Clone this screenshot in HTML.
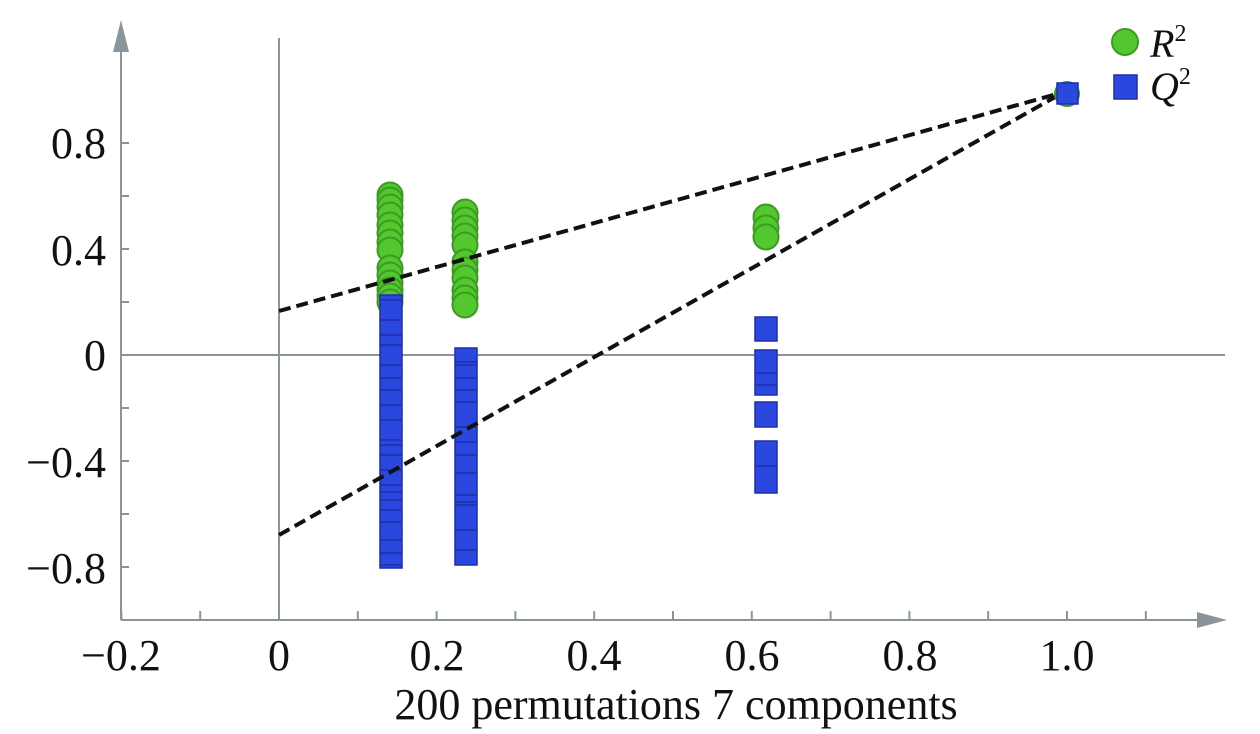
<!DOCTYPE html>
<html><head><meta charset="utf-8"><style>
html,body{margin:0;padding:0;background:#fff;}
svg{display:block;}
text{font-family:"Liberation Serif",serif;fill:#111;}
</style></head><body>
<svg id="s" width="1260" height="734" xmlns="http://www.w3.org/2000/svg">
<g stroke="#8a959b" stroke-width="2" fill="none">
<line x1="121" y1="50" x2="121" y2="620"/>
<line x1="121" y1="620" x2="1205" y2="620"/>
<line x1="279" y1="38" x2="279" y2="620"/>
<line x1="121" y1="355" x2="1225" y2="355"/>
</g>
<polygon points="121,20 113,52 129,52" fill="#8a959b"/>
<polygon points="1227,620 1197,612 1197,628" fill="#8a959b"/>
<g id="ticks" stroke="#8a959b" stroke-width="2"></g>
<g font-size="44">
<text x="106" y="158" text-anchor="end">0.8</text>
<text x="106" y="265" text-anchor="end">0.4</text>
<text x="106" y="370" text-anchor="end">0</text>
<text x="106" y="477" text-anchor="end">−0.4</text>
<text x="106" y="583" text-anchor="end">−0.8</text>
<text x="121" y="670" text-anchor="middle">−0.2</text>
<text x="279" y="670" text-anchor="middle">0</text>
<text x="437" y="670" text-anchor="middle">0.2</text>
<text x="594" y="670" text-anchor="middle">0.4</text>
<text x="752" y="670" text-anchor="middle">0.6</text>
<text x="910" y="670" text-anchor="middle">0.8</text>
<text x="1067" y="670" text-anchor="middle">1.0</text>
<text x="676" y="719" text-anchor="middle">200 permutations 7 components</text>
</g>
<g id="pts"></g>
<g stroke="#111" stroke-width="4" stroke-dasharray="12,6" fill="none">
<line x1="279" y1="311" x2="1064" y2="92"/>
<line x1="279" y1="535" x2="1064" y2="92"/>
</g>
<circle cx="1067" cy="94" r="12" fill="#52c72e" stroke="#3d9a22" stroke-width="2"/>
<rect x="1057" y="83" width="21" height="21" fill="#2a48e0" stroke="#1c2fa8" stroke-width="1.5"/>
<circle cx="1125" cy="42" r="13" fill="#52c72e" stroke="#3d9a22" stroke-width="2"/>
<rect x="1114" y="75" width="23" height="24" fill="#2a48e0" stroke="#1c2fa8" stroke-width="1.5"/>
<text x="1150" y="57" font-size="40" font-style="italic">R<tspan font-size="24" font-style="normal" dy="-16">2</tspan></text>
<text x="1150" y="100" font-size="40" font-style="italic">Q<tspan font-size="24" font-style="normal" dy="-16">2</tspan></text>
</svg>
<script>
var NS="http://www.w3.org/2000/svg";
function el(p,t,a){var e=document.createElementNS(NS,t);for(var k in a)e.setAttribute(k,a[k]);p.appendChild(e);return e;}
var tk=document.getElementById("ticks");
for(var i=-4;i<=4;i++){var y=355-i*53;el(tk,"line",{x1:121,y1:y,x2:129,y2:y});}
for(var j=-2;j<=11;j++){var x=279+j*78.8;el(tk,"line",{x1:x,y1:620,x2:x,y2:611});}
var g=document.getElementById("pts");
function sq(x,y1,y2,lines){el(g,"rect",{x:x,y:y1,width:22,height:y2-y1,fill:"#2a48e0",stroke:"#1c2fa8","stroke-width":1.5});
 lines.forEach(function(l){el(g,"line",{x1:x,x2:x+22,y1:l,y2:l,stroke:"#1c2fa8","stroke-width":1.5});});}
function circ(cx,cys){cys.forEach(function(c){el(g,"circle",{cx:cx,cy:c,r:12.5,fill:"#52c72e",stroke:"#3d9a22","stroke-width":2});});}
circ(390,[195,200,207,215,225,233,242,250,268,275,283,290,296,302]);
circ(465,[212,220,228,236,245,262,270,278,290,298,305]);
circ(766,[217,228,237]);
sq(380,295,568,[300,320,335,345,365,378,390,405,420,440,445,455,470,485,492,500,510,522,540,553,565]);
sq(455,348,565,[362,365,378,390,402,427,442,455,473,495,502,505,530,550]);
sq(755,317,341,[]);sq(755,350,395,[373,385]);sq(755,402,427,[]);sq(755,441,493,[466]);
</script>
</body></html>
